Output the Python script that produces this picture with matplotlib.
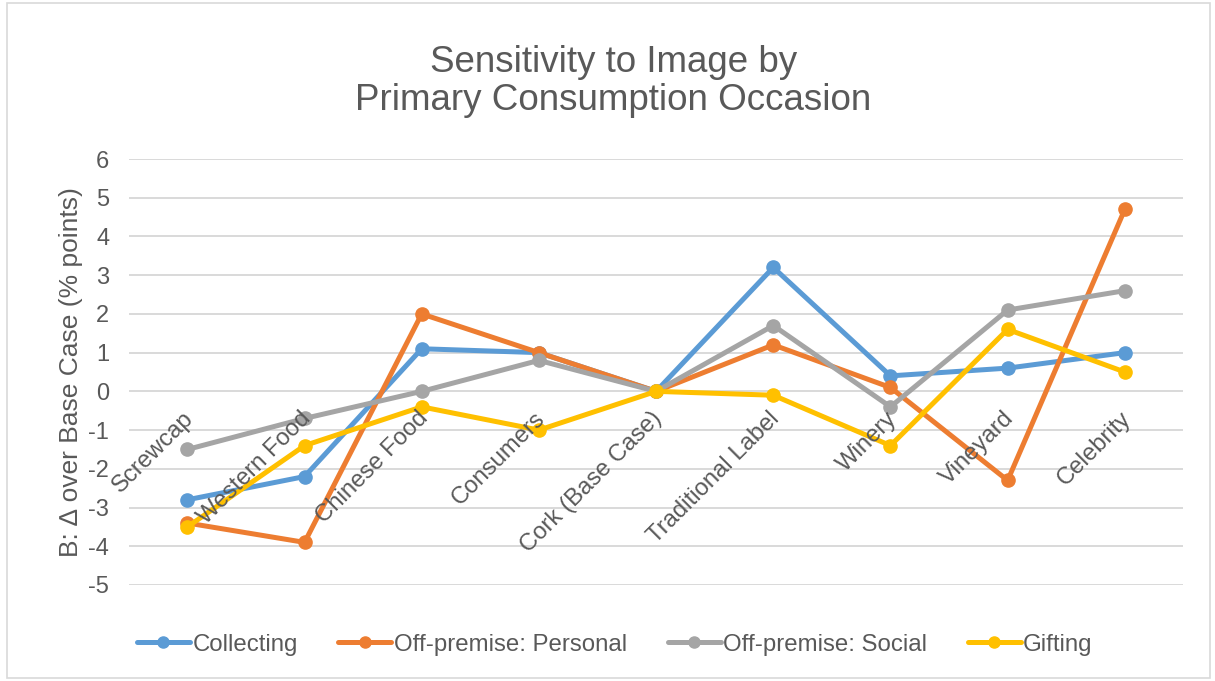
import matplotlib.pyplot as plt
from matplotlib.patches import Rectangle

plt.rcParams['font.family'] = ['Liberation Sans', 'DejaVu Sans']

categories = ['Screwcap', 'Western Food', 'Chinese Food', 'Consumers', 'Cork (Base Case)',
              'Traditional Label', 'Winery', 'Vineyard', 'Celebrity']
collecting = [-2.8, -2.2, 1.1, 1.0, 0.0, 3.2, 0.4, 0.6, 1.0]
personal = [-3.4, -3.9, 2.0, 1.0, 0.0, 1.2, 0.1, -2.3, 4.7]
social = [-1.5, -0.7, 0.0, 0.8, 0.0, 1.7, -0.4, 2.1, 2.6]
gifting = [-3.5, -1.4, -0.4, -1.0, 0.0, -0.1, -1.4, 1.6, 0.5]
series_names = ['Collecting', 'Off-premise: Personal', 'Off-premise: Social', 'Gifting']
yticks = list(range(-5, 7))

colors = ['#5B9BD5', '#ED7D31', '#A5A5A5', '#FFC000']
text_col = '#595959'

fig = plt.figure(figsize=(12.15, 6.81), dpi=100)
ax = fig.add_axes([0.106, 0.141, 0.868, 0.6255])

x = list(range(len(categories)))
for vals, name, c in zip([collecting, personal, social, gifting], series_names, colors):
    ax.plot(x, vals, color=c, lw=3.6, marker='o', ms=9.5, label=name,
            solid_capstyle='round', zorder=3)

ax.set_xlim(-0.5, len(categories) - 0.5)
ax.set_ylim(-5, 6)
ax.set_yticks(yticks)
ax.set_yticklabels([str(v) for v in yticks], fontsize=17, color=text_col)
ax.set_xticks([])
ax.tick_params(axis='y', length=0, pad=14)
ax.grid(axis='y', color='#D9D9D9', lw=1.4)
ax.set_axisbelow(True)
for s in ax.spines.values():
    s.set_visible(False)

# category names sit next to the zero line, slanted
for i, name in enumerate(categories):
    ax.annotate(name, xy=(i, 0), xytext=(-5, -16), textcoords='offset pixels',
                ha='right', va='top', rotation=45, rotation_mode='anchor',
                fontsize=17.2, color=text_col, zorder=4)

ax.set_ylabel('B: \u2206 over Base Case (% points)', fontsize=19, color=text_col, labelpad=4)

fig.text(0.505, 0.88, 'Sensitivity to Image by\nPrimary Consumption Occasion',
         ha='center', va='center', fontsize=26.5, color=text_col, linespacing=1.12)

leg = fig.legend(loc='center', bbox_to_anchor=(0.506, 0.053), ncol=4, frameon=False,
                 fontsize=17.3, handlelength=2.2, columnspacing=1.7, handletextpad=0.1)
for t in leg.get_texts():
    t.set_color(text_col)
for h in leg.legend_handles:
    h.set_markersize(8)

fig.patches.append(Rectangle((0.006, 0.004), 0.99, 0.992, transform=fig.transFigure,
                             fill=False, ec='#D9D9D9', lw=1.2))

fig.savefig('out.png', dpi=100, facecolor='white')
